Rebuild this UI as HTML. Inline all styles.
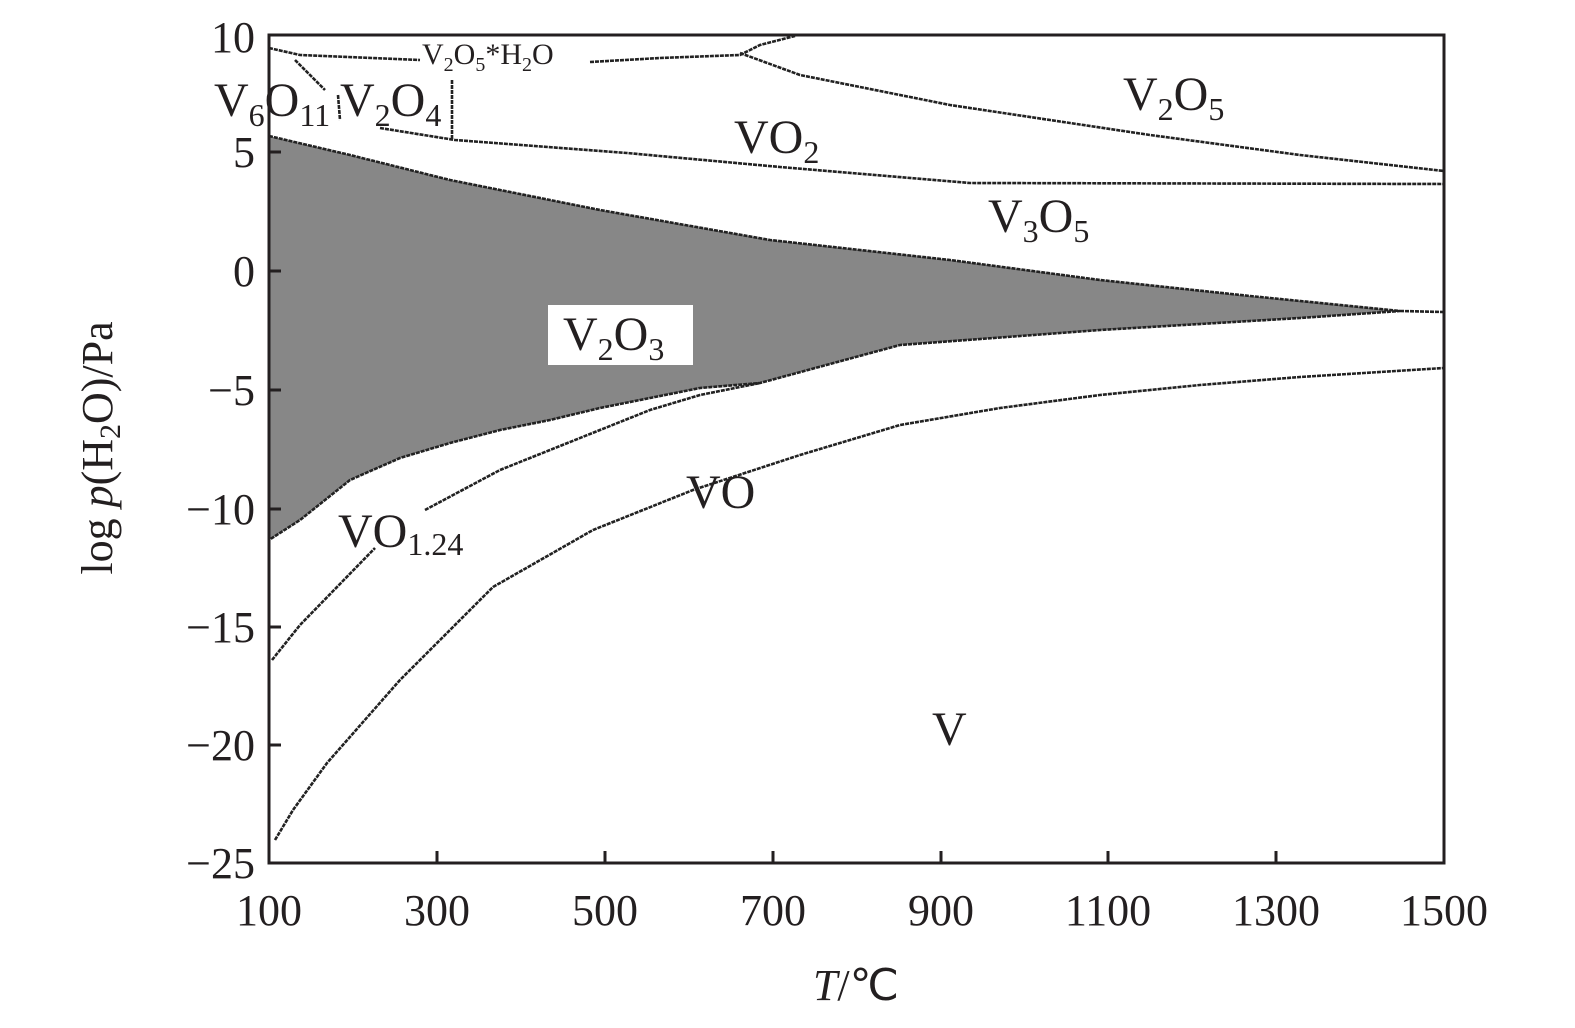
<!DOCTYPE html>
<html><head><meta charset="utf-8"><style>
html,body{margin:0;background:#fff;overflow:hidden;width:1575px;height:1028px}
svg{display:block}
svg text{font-family:"Liberation Serif",serif;fill:#231f20}
</style></head><body>
<svg width="1575" height="1028" viewBox="0 0 1575 1028">
<g fill="none" stroke="#222" stroke-width="2.6" stroke-dasharray="4 1">
<path d="M269,136 L350,155 L450,180 L600,210 L770,240 L950,260 L1100,280 L1250,296 L1400,311 L1300,318 L1100,330 L900,345 L760,383 L700,388 L650,398 L600,408 L550,420 L500,430 L450,443 L400,458 L350,480 L300,520 L269,540 Z" fill="#878787"/>
<path d="M1400,311 L1444,312"/>
<path d="M272,660 L300,625 L375,548"/>
<path d="M425,510 L500,470 L550,450 L600,430 L650,410 L700,395 L760,383"/>
<path d="M275,840 L293,810 L327,763 L400,680 L493,587 L593,530 L693,490 L800,455 L900,425 L1000,408 L1100,395 L1200,385 L1300,377 L1444,368"/>
<path d="M380,128 L455,140 L627,153 L780,167 L970,183 L1444,184"/>
<path d="M740,53 L800,75 L950,105 L1150,135 L1300,155 L1444,171"/>
<path d="M269,48 L300,55 L420,60"/>
<path d="M590,62 L660,58 L740,55 L760,45 L795,36"/>
<path d="M295,60 L325,90"/>
<path d="M338,95 L340,120"/>
<path d="M452,80 L452,140"/>
</g>
<rect x="269" y="35" width="1175" height="828" fill="none" stroke="#231f20" stroke-width="3"/>
<g stroke="#231f20" stroke-width="3">
<path d="M269,152h12M269,271h12M269,390h12M269,509h12M269,627h12M269,745h12"/>
<path d="M437,863v-12M605,863v-12M773,863v-12M941,863v-12M1108,863v-12M1276,863v-12"/>
</g>
<g font-size="44" text-anchor="end">
<text x="255" y="52">10</text><text x="255" y="167">5</text><text x="255" y="286">0</text>
<text x="255" y="405">−5</text><text x="255" y="524">−10</text><text x="255" y="642">−15</text>
<text x="255" y="760">−20</text><text x="255" y="878">−25</text>
</g>
<g font-size="44" text-anchor="middle">
<text x="269" y="925">100</text><text x="437" y="925">300</text><text x="605" y="925">500</text>
<text x="773" y="925">700</text><text x="941" y="925">900</text><text x="1108" y="925">1100</text>
<text x="1276" y="925">1300</text><text x="1444" y="925">1500</text>
</g>
<text x="856" y="1000" font-size="44" text-anchor="middle"><tspan font-style="italic">T</tspan>/℃</text>
<text transform="translate(112,448) rotate(-90)" font-size="44" text-anchor="middle">log <tspan font-style="italic">p</tspan>(H<tspan font-size="30" dy="8">2</tspan><tspan dy="-8">O)/Pa</tspan></text>
<g font-size="48">
<text x="214" y="116">V<tspan font-size="32" dy="10">6</tspan><tspan dy="-10">O</tspan><tspan font-size="32" dy="10">11</tspan></text>
<text x="340" y="116">V<tspan font-size="32" dy="10">2</tspan><tspan dy="-10">O</tspan><tspan font-size="32" dy="10">4</tspan></text>
<text x="734" y="153">VO<tspan font-size="32" dy="10">2</tspan></text>
<text x="1123" y="110">V<tspan font-size="32" dy="10">2</tspan><tspan dy="-10">O</tspan><tspan font-size="32" dy="10">5</tspan></text>
<text x="988" y="232">V<tspan font-size="32" dy="10">3</tspan><tspan dy="-10">O</tspan><tspan font-size="32" dy="10">5</tspan></text>
<text x="338" y="547">VO<tspan font-size="32" dy="8">1.24</tspan></text>
<text x="686" y="508">VO</text>
<text x="932" y="745">V</text>
</g>
<rect x="548" y="305" width="145" height="60" fill="#fff"/>
<text x="563" y="350" font-size="48">V<tspan font-size="32" dy="10">2</tspan><tspan dy="-10">O</tspan><tspan font-size="32" dy="10">3</tspan></text>
<text x="422" y="64" font-size="30">V<tspan font-size="20" dy="7">2</tspan><tspan dy="-7">O</tspan><tspan font-size="20" dy="7">5</tspan><tspan dy="-7">*H</tspan><tspan font-size="20" dy="7">2</tspan><tspan dy="-7">O</tspan></text>
</svg>
</body></html>
